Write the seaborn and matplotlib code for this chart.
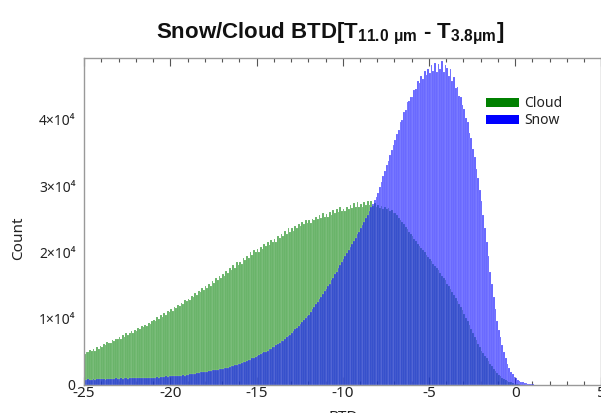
import numpy as np
import pandas as pd
import matplotlib
matplotlib.use("Agg")
import matplotlib.pyplot as plt
from matplotlib.patches import Patch
from matplotlib.ticker import MultipleLocator
import seaborn as sns

# Histogram bins: 0.1 wide, starting at BTD = -25
bin_start = -25.0
bin_width = 0.1

# Counts per bin (thousands), one row per unit of BTD from -25 upward
cloud_counts_k = [
    4.6, 5.0, 4.9, 5.3, 5.1, 5.4, 5.2, 5.7, 5.5, 5.9,
    5.8, 6.2, 6.0, 6.5, 6.3, 6.4, 6.8, 6.6, 7.0, 6.9,
    7.2, 7.0, 7.5, 7.3, 7.8, 7.6, 7.9, 8.1, 7.8, 8.3,
    8.1, 8.6, 8.4, 8.9, 8.7, 9.1, 8.9, 9.4, 9.2, 9.6,
    9.8, 9.6, 10.2, 10.0, 10.5, 10.3, 10.8, 10.6, 11.2, 11.0,
    11.4, 11.2, 11.8, 11.6, 12.1, 11.9, 12.4, 12.2, 12.8, 12.6,
    13.0, 12.8, 13.4, 13.2, 13.8, 13.6, 14.2, 14.0, 14.6, 14.3,
    14.9, 14.6, 15.3, 15.0, 15.7, 15.4, 16.1, 15.8, 16.5, 16.2,
    16.7, 16.4, 17.2, 16.9, 17.6, 17.3, 18.1, 17.7, 18.5, 18.1,
    18.6, 18.3, 19.1, 18.8, 19.5, 19.2, 20.0, 19.6, 20.4, 20.0,
    20.5, 20.1, 20.8, 20.5, 21.2, 20.9, 21.5, 21.1, 21.9, 21.5,
    22.0, 21.6, 22.4, 22.1, 22.8, 22.4, 23.2, 22.8, 23.6, 23.1,
    23.6, 23.2, 23.9, 23.6, 24.3, 23.9, 24.6, 24.2, 24.9, 24.4,
    24.8, 24.4, 25.1, 24.8, 25.4, 25.0, 25.7, 25.2, 25.9, 25.4,
    25.8, 25.4, 26.1, 25.7, 26.4, 25.9, 26.6, 26.1, 26.8, 26.2,
    26.6, 26.2, 26.9, 26.5, 27.2, 26.7, 27.4, 26.8, 27.6, 26.9,
    27.3, 26.9, 27.6, 27.1, 27.8, 27.2, 27.7, 27.0, 27.5, 26.9,
    27.1, 26.7, 27.0, 26.6, 26.9, 26.5, 26.7, 26.2, 26.4, 26.0,
    25.9, 25.6, 25.2, 24.9, 24.5, 24.2, 23.8, 23.5, 23.1, 22.8,
    22.4, 22.0, 21.7, 21.3, 21.0, 20.7, 20.3, 20.0, 19.6, 19.3,
    19.0, 18.7, 18.3, 18.0, 17.6, 17.3, 16.9, 16.5, 16.2, 15.8,
    15.3, 14.9, 14.4, 14.0, 13.5, 13.1, 12.6, 12.2, 11.7, 11.3,
    10.7, 10.1, 9.6, 9.0, 8.5, 7.9, 7.3, 6.8, 6.2, 5.7,
    5.2, 4.8, 4.4, 4.0, 3.6, 3.2, 2.8, 2.4, 2.1, 1.8,
    1.5, 1.3, 1.1, 0.9, 0.8, 0.6, 0.5, 0.4, 0.3, 0.2,
    0.15, 0.1, 0.08, 0.05, 0.03, 0.02, 0.01, 0.0, 0.0, 0.0,
    0.0, 0.0, 0.0, 0.0, 0.0, 0.0, 0.0, 0.0, 0.0, 0.0,
]

snow_counts_k = [
    0.8, 0.8, 0.9, 0.8, 0.8, 0.9, 0.8, 0.9, 0.9, 0.9,
    0.9, 0.9, 0.8, 0.9, 0.9, 0.9, 0.9, 0.9, 1.0, 0.9,
    0.9, 1.0, 0.9, 1.0, 1.0, 0.9, 1.0, 1.0, 1.0, 1.0,
    1.0, 1.0, 1.1, 1.0, 1.0, 1.1, 1.1, 1.0, 1.1, 1.1,
    1.1, 1.1, 1.2, 1.1, 1.2, 1.2, 1.2, 1.3, 1.2, 1.3,
    1.3, 1.3, 1.4, 1.3, 1.4, 1.4, 1.4, 1.5, 1.4, 1.5,
    1.5, 1.6, 1.6, 1.7, 1.7, 1.8, 1.8, 1.9, 1.9, 2.0,
    2.0, 2.0, 2.1, 2.1, 2.2, 2.2, 2.3, 2.3, 2.4, 2.4,
    2.4, 2.5, 2.6, 2.6, 2.7, 2.8, 2.9, 3.0, 3.0, 3.1,
    3.2, 3.3, 3.4, 3.5, 3.6, 3.7, 3.8, 4.0, 4.1, 4.2,
    4.3, 4.5, 4.6, 4.8, 4.9, 5.0, 5.2, 5.4, 5.5, 5.7,
    5.8, 6.0, 6.2, 6.4, 6.6, 6.7, 6.9, 7.2, 7.4, 7.6,
    7.8, 8.1, 8.4, 8.6, 8.9, 9.2, 9.5, 9.8, 10.1, 10.4,
    10.6, 11.0, 11.4, 11.8, 12.2, 12.5, 12.9, 13.3, 13.7, 14.1,
    14.4, 14.9, 15.3, 15.8, 16.2, 16.7, 17.1, 17.6, 18.1, 18.5,
    19.0, 19.5, 19.9, 20.4, 20.8, 21.3, 21.7, 22.2, 22.7, 23.1,
    23.6, 24.1, 24.6, 25.2, 25.7, 26.2, 26.8, 27.3, 27.9, 28.4,
    29.0, 29.9, 30.6, 31.5, 32.2, 33.1, 33.8, 34.6, 35.4, 36.2,
    37.0, 37.9, 38.4, 39.6, 40.0, 41.1, 41.4, 42.6, 42.8, 43.4,
    43.4, 44.4, 44.6, 45.8, 45.6, 46.6, 46.2, 47.4, 46.8, 47.6,
    47.0, 48.2, 47.4, 48.6, 47.2, 48.4, 47.6, 48.8, 47.2, 48.3,
    47.8, 46.6, 47.6, 45.8, 46.4, 44.8, 45.0, 43.6, 43.4, 42.2,
    41.6, 40.2, 39.6, 38.0, 37.2, 35.6, 34.4, 32.6, 31.2, 29.4,
    27.8, 25.6, 23.6, 21.6, 19.4, 17.0, 15.2, 13.2, 11.4, 9.6,
    8.3, 7.2, 6.1, 5.0, 4.0, 3.2, 2.6, 2.0, 1.6, 1.2,
    1.0, 0.8, 0.6, 0.5, 0.4, 0.3, 0.25, 0.2, 0.15, 0.1,
    0.08, 0.05, 0.03, 0.02, 0.01, 0.0, 0.0, 0.0, 0.0, 0.0,
]

series_names = ["Cloud", "Snow"]
series_colors = ["#008000", "#0000ff"]
ytick_values = [0, 10000, 20000, 30000, 40000]
ytick_labels = ["0", "1×10⁴", "2×10⁴", "3×10⁴", "4×10⁴"]
xtick_values = [-25, -20, -15, -10, -5, 0, 5]

n_bins = len(cloud_counts_k)
bin_end = bin_start + bin_width * n_bins
centers = bin_start + bin_width * (np.arange(n_bins) + 0.5)

df = pd.DataFrame({
    "BTD": np.concatenate([centers, centers]),
    "Count": np.concatenate([np.array(cloud_counts_k), np.array(snow_counts_k)]) * 1000,
    "Type": ["Cloud"] * n_bins + ["Snow"] * n_bins,
})

sns.set_style("ticks")
plt.rcParams["font.family"] = ["Noto Sans", "DejaVu Sans"]
plt.rcParams["axes.unicode_minus"] = False
plt.rcParams["mathtext.fontset"] = "custom"
plt.rcParams["mathtext.rm"] = "Liberation Sans:bold"

fig = plt.figure(figsize=(6.01, 4.13), dpi=100)
ax = fig.add_axes([0.1398, 0.0678, 0.861, 0.7918])

for name, color in zip(series_names, series_colors):
    sub = df[df["Type"] == name]
    sns.histplot(data=sub, x="BTD", weights="Count", binwidth=bin_width,
                 binrange=(bin_start, bin_end), stat="count",
                 color=color, alpha=0.62, linewidth=0.25, edgecolor="#ffffff55",
                 element="bars", ax=ax)

ax.set_xlim(-25, 5)
ax.set_ylim(0, 49300)
ax.set_xticks(xtick_values)
ax.set_xticklabels([str(v) for v in xtick_values])
ax.xaxis.set_minor_locator(MultipleLocator(1))
ax.set_yticks(ytick_values)
ax.set_yticklabels(ytick_labels)

ax.tick_params(axis="x", which="both", direction="in", top=True, bottom=True,
               colors="#555555", labelcolor="#222222", labelsize=11, pad=1)
ax.tick_params(axis="x", which="major", length=6, width=0.8)
ax.tick_params(axis="x", which="minor", length=3, width=0.8)
ax.tick_params(axis="y", which="both", length=0, labelcolor="#222222",
               labelsize=10, pad=6)
for side in ["left", "top", "bottom", "right"]:
    ax.spines[side].set_color("#999999")
    ax.spines[side].set_linewidth(1.0)

ax.set_xlabel("BTD", fontsize=11, color="#222222")
ax.xaxis.set_label_coords(0.5, -0.075)
ax.set_ylabel("Count", fontsize=11, color="#222222")
ax.yaxis.set_label_coords(-0.112, 0.45)

ax.set_title(r"Snow/Cloud BTD[T$_{\mathrm{11.0\ μm}}$ - T$_{\mathrm{3.8μm}}$]",
             fontsize=16, fontweight="bold", family="Liberation Sans",
             color="#111111", pad=14, x=0.475)

handles = [Patch(facecolor=c, edgecolor="none", label=n)
           for n, c in zip(series_names, series_colors)]
ax.legend(handles=handles, loc="upper left",
          bbox_to_anchor=(486 / 601, 1 - 96 / 413), bbox_transform=fig.transFigure,
          frameon=False, fontsize=10, handlelength=2.4, handleheight=0.6,
          handletextpad=0.35, labelspacing=0.15, borderpad=0, borderaxespad=0,
          labelcolor="#222222")

fig.savefig("out.png", dpi=100)
